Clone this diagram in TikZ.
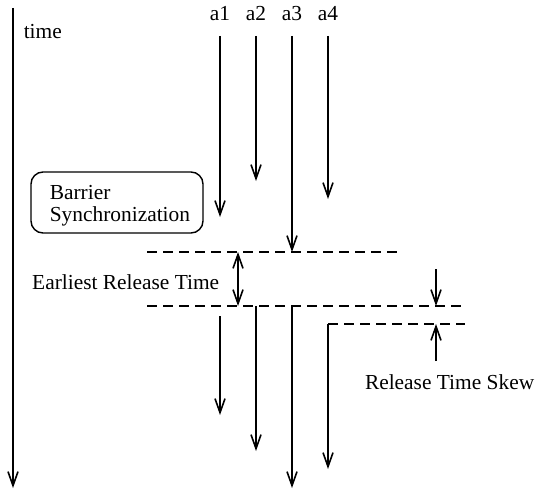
\documentclass[tikz,border=0pt]{standalone}
\usepackage{fontspec}
\setmainfont{Liberation Serif}
\usetikzlibrary{arrows.meta}
\begin{document}
\begin{tikzpicture}[x=1pt,y=-1pt,
  line width=1.6pt,
  arr/.style={-{Straight Barb[length=14pt,width=10pt,line width=1.6pt]}},
  dbl/.style={{Straight Barb[length=14pt,width=10pt,line width=1.6pt]}-{Straight Barb[length=14pt,width=10pt,line width=1.6pt]}},
  dsh/.style={dash pattern=on 10pt off 6pt, line width=1.4pt},
  lbl/.style={font=\fontsize{21.4}{25}\selectfont, inner sep=0pt},
  boxst/.style={draw, rounded corners=12pt, line width=1.4pt}]
\useasboundingbox (0,0) rectangle (535,492);
% time axis
\coordinate (t0) at (13,8);
\coordinate (t1) at (13,488);
\draw[arr] (t0) -- (t1);
\node[lbl, anchor=west] (time) at (23,32) {time};
% labels
\node[lbl] (la1) at (220,14) {a1};
\node[lbl] (la2) at (256,14) {a2};
\node[lbl] (la3) at (292,14) {a3};
\node[lbl] (la4) at (328,14) {a4};
% upper arrows
\coordinate (s1) at (220,36); \coordinate (e1) at (220,217);
\coordinate (s2) at (256,36); \coordinate (e2) at (256,181);
\coordinate (s3) at (292,36); \coordinate (e3) at (292,252);
\coordinate (s4) at (328,36); \coordinate (e4) at (328,199);
\draw[arr] (s1) -- (e1);
\draw[arr] (s2) -- (e2);
\draw[arr] (s3) -- (e3);
\draw[arr] (s4) -- (e4);
% barrier box
\node[boxst, minimum width=172pt, minimum height=61pt] (box) at (117,202.5) {};
\node[lbl, anchor=west, align=left, font=\fontsize{21.4}{22}\selectfont] (boxtxt) at (49,206) {Barrier\\Synchronization};
% dashed lines
\coordinate (d1a) at (147,252); \coordinate (d1b) at (402,252);
\coordinate (d2a) at (147,306); \coordinate (d2b) at (465,306);
\coordinate (d3a) at (328,324); \coordinate (d3b) at (465,324);
\draw[dsh] (d1a) -- (d1b);
\draw[dsh] (d2a) -- (d2b);
\draw[dsh] (d3a) -- (d3b);
% earliest release time
\coordinate (er1) at (238,252); \coordinate (er2) at (238,306);
\draw[dbl] (er1) -- (er2);
\node[lbl, anchor=east] (ert) at (220,282) {Earliest Release Time};
% skew
\coordinate (k0) at (436,269); \coordinate (k1) at (436,306);
\coordinate (k2) at (436,361); \coordinate (k3) at (436,324);
\draw[arr] (k0) -- (k1);
\draw[arr] (k2) -- (k3);
\node[lbl, anchor=east] (skew) at (535,382) {Release Time Skew};
% lower arrows
\coordinate (l1s) at (220,316); \coordinate (l1e) at (220,415);
\coordinate (l2s) at (256,306); \coordinate (l2e) at (256,451);
\coordinate (l3s) at (292,306); \coordinate (l3e) at (292,488);
\coordinate (l4s) at (328,324); \coordinate (l4e) at (328,469);
\draw[arr] (l1s) -- (l1e);
\draw[arr] (l2s) -- (l2e);
\draw[arr] (l3s) -- (l3e);
\draw[arr] (l4s) -- (l4e);
\end{tikzpicture}
\end{document}
